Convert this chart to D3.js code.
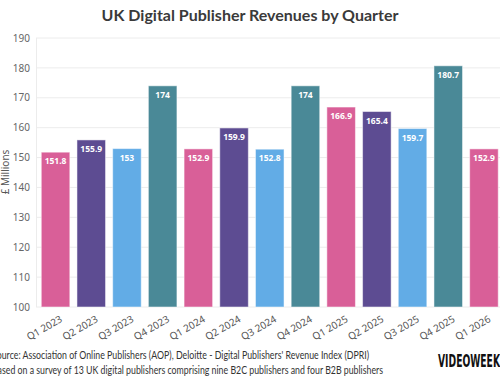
<!DOCTYPE html>
<html><head><meta charset="utf-8">
<script src="https://cdn.jsdelivr.net/npm/d3@7"></script>
<style>body{margin:0;background:#fff}svg{display:block}</style>
</head><body>
<svg id="c" width="500" height="383"></svg>
<script>
const categories = ["Q1 2023","Q2 2023","Q3 2023","Q4 2023","Q1 2024","Q2 2024","Q3 2024","Q4 2024","Q1 2025","Q2 2025","Q3 2025","Q4 2025","Q1 2026"];
const revenues = [151.8,155.9,153,174,152.9,159.9,152.8,174,166.9,165.4,159.7,180.7,152.9];
const valueLabels = ["151.8","155.9","153","174","152.9","159.9","152.8","174","166.9","165.4","159.7","180.7","152.9"];
const yTicks = [100,110,120,130,140,150,160,170,180,190];
const quarterColors = ["#d95f98","#5d4c92","#62ace6","#4a8997"];
const title = "UK Digital Publisher Revenues by Quarter";
const yTitle = "£ Millions";
const sourceLines = ["Source: Association of Online Publishers (AOP), Deloitte - Digital Publishers' Revenue Index (DPRI)",
  "Based on a survey of 13 UK digital publishers comprising nine B2C publishers and four B2B publishers"];
const sourceWidths = [377, 391];

const svg = d3.select("#c");
const x = d3.scaleBand().domain(categories).range([37.7, 501.8]).paddingInner(0.2).paddingOuter(0.1);
const y = d3.scaleLinear().domain([100,190]).range([307,38]);

// title
svg.append("text").attr("x",250).attr("y",21).attr("text-anchor","middle")
  .attr("font-family","Lato,sans-serif").attr("font-weight","bold").attr("font-size",16)
  .attr("fill","#3a3a3a").text(title);

// grid
svg.append("g").selectAll("line").data(yTicks).join("line")
  .attr("x1",36).attr("x2",500).attr("y1",d=>y(d)).attr("y2",d=>y(d))
  .attr("stroke","#ececec").attr("stroke-width",1);
svg.append("line").attr("x1",36.5).attr("x2",36.5).attr("y1",y(190)).attr("y2",y(100))
  .attr("stroke","#ececec");

// y axis
const ya = svg.append("g").attr("transform","translate(36,0)")
  .call(d3.axisLeft(y).tickValues(yTicks).tickSize(0).tickPadding(6));
ya.select(".domain").remove();
ya.selectAll("text").attr("font-family","'Noto Sans',sans-serif").attr("font-size",10).attr("fill","#666");

svg.append("text").attr("transform","translate(9,172) rotate(-90)").attr("text-anchor","middle")
  .attr("font-family","'Noto Sans',sans-serif").attr("font-size",10).attr("fill","#555").text(yTitle);

// bars
svg.append("g").selectAll("rect").data(revenues).join("rect")
  .attr("x",(d,i)=>x(categories[i])).attr("width",x.bandwidth())
  .attr("y",d=>y(d)).attr("height",d=>y(100)-y(d))
  .attr("fill",(d,i)=>quarterColors[i%4]).attr("stroke","#fff").attr("stroke-opacity",0.5).attr("stroke-width",1);

svg.append("g").selectAll("text").data(revenues).join("text")
  .attr("x",(d,i)=>x(categories[i])+x.bandwidth()/2).attr("y",d=>y(d)+12)
  .attr("text-anchor","middle").attr("font-family","'Noto Sans',sans-serif").attr("font-weight","bold")
  .attr("font-size",8.5).attr("fill","#fff").text((d,i)=>valueLabels[i]);

// x axis labels
const xa = svg.append("g").attr("transform",`translate(0,${y(100)})`)
  .call(d3.axisBottom(x).tickSize(0).tickPadding(0));
xa.select(".domain").remove();
xa.selectAll("text").attr("text-anchor","end").attr("font-family","'Noto Sans',sans-serif")
  .attr("font-size",10).attr("fill","#555")
  .attr("transform","translate(4,8) rotate(-30)").attr("dy","0.7em").attr("y",0);

// source
svg.append("g").selectAll("text").data(sourceLines).join("text")
  .attr("x",-8).attr("y",(d,i)=>359+i*14.5).attr("font-family","Lato,sans-serif")
  .attr("font-size",10.5).attr("fill","#333")
  .attr("textLength",(d,i)=>sourceWidths[i]).attr("lengthAdjust","spacingAndGlyphs").text(d=>d);

// logo
svg.append("text").attr("x",438).attr("y",367).attr("font-family","'Liberation Sans Narrow','DejaVu Sans Condensed',sans-serif")
  .attr("font-weight","bold").attr("font-size",17).attr("fill","#111")
  .attr("textLength",62).attr("lengthAdjust","spacingAndGlyphs").text("VIDEOWEEK");
</script>
</body></html>
